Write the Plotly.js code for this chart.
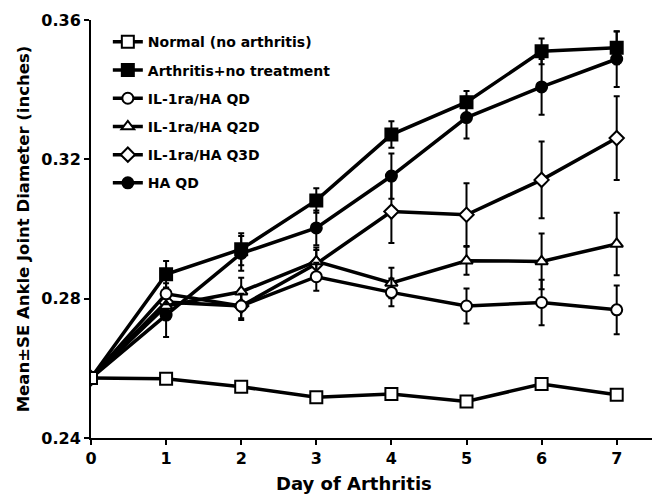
<!DOCTYPE html>
<html>
<head>
<meta charset="utf-8">
<script src="https://cdn.plot.ly/plotly-3.0.1.min.js"></script>
<style>html,body{margin:0;padding:0;background:#fff;}#chart{width:652px;height:496px;}</style>
</head>
<body>
<div id="chart"></div>
<script>
const days = [0, 1, 2, 3, 4, 5, 6, 7];
const normal = [0.2572, 0.2570, 0.2547, 0.2517, 0.2526, 0.2505, 0.2555, 0.2524];
const arthritis = [0.2572, 0.2870, 0.2942, 0.3082, 0.3271, 0.3364, 0.3510, 0.3520];
const ilQD = [0.2572, 0.2814, 0.2779, 0.2863, 0.2818, 0.2779, 0.2789, 0.2768];
const ilQ2D = [0.2572, 0.2779, 0.2820, 0.2907, 0.2845, 0.2909, 0.2907, 0.2957];
const ilQ3D = [0.2572, 0.2790, 0.2779, 0.2900, 0.3050, 0.3041, 0.3141, 0.3261];
const haQD = [0.2572, 0.2753, 0.2930, 0.3003, 0.3152, 0.3320, 0.3408, 0.3488];

const arthritisSE = [0, 0.0038, 0.0046, 0.0035, 0.0038, 0.0032, 0.0037, 0.0047];
const ilQDSE = [0, 0.0030, 0.0035, 0.0040, 0.0040, 0.0050, 0.0065, 0.0070];
const ilQ2DSE = [0, 0.0030, 0.0040, 0.0040, 0.0044, 0.0040, 0.0080, 0.0090];
const ilQ3DSE = [0, 0.0040, 0.0040, 0.0040, 0.0090, 0.0090, 0.0110, 0.0120];
const haQDSE = [0, 0.0063, 0.0050, 0.0050, 0.0065, 0.0060, 0.0080, 0.0080];

const names = ["Normal (no arthritis)", "Arthritis+no treatment", "IL-1ra/HA QD", "IL-1ra/HA Q2D", "IL-1ra/HA Q3D", "HA QD"];
const xTicks = [0, 1, 2, 3, 4, 5, 6, 7];
const yTicks = [0.24, 0.28, 0.32, 0.36];
const xTitle = 'Day of Arthritis';
const yTitle = 'Mean±SE Ankle Joint Diameter (inches)';

const FONT = 'DejaVu Sans, Verdana, sans-serif';

function series(name, y, se, symbol, fill, size, rank) {
  const t = {
    type: 'scatter', mode: 'lines+markers', name: name, x: days, y: y,
    legendgroup: name, legendrank: rank,
    line: {color: '#000', width: 3.5},
    marker: {symbol: symbol, size: size, color: fill, line: {color: '#000', width: 2}}
  };
  if (se) t.error_y = {type: 'data', array: se, visible: true, color: '#000', thickness: 2, width: 3};
  return t;
}

const data = [
  series(names[5], haQD, haQDSE, 'circle', '#000', 11, 6),
  series(names[4], ilQ3D, ilQ3DSE, 'diamond', '#fff', 11, 5),
  series(names[3], ilQ2D, ilQ2DSE, 'triangle-up', '#fff', 11, 4),
  series(names[2], ilQD, ilQDSE, 'circle', '#fff', 11, 3),
  series(names[1], arthritis, arthritisSE, 'square', '#000', 12, 2),
  series(names[0], normal, null, 'square', '#fff', 12, 1)
];

const layout = {
  width: 652, height: 496,
  margin: {l: 91, r: 0, t: 20, b: 58},
  paper_bgcolor: '#fff', plot_bgcolor: '#fff',
  font: {family: FONT, color: '#000'},
  showlegend: true,
  legend: {
    x: 0.03, y: 0.985, xanchor: 'left', yanchor: 'top',
    bgcolor: 'rgba(0,0,0,0)', tracegroupgap: 7,
    font: {size: 14, family: FONT, weight: 'bold'}
  },
  xaxis: {
    range: [0, 7.47], tickvals: xTicks, ticktext: xTicks.map(String),
    showgrid: false, zeroline: false, showline: true, linecolor: '#000', linewidth: 2,
    ticks: 'outside', ticklen: 5, tickwidth: 2, tickcolor: '#000',
    tickfont: {size: 16, weight: 'bold'}
  },
  yaxis: {
    range: [0.24, 0.36], tickvals: yTicks, ticktext: yTicks.map(v => v.toFixed(2)),
    showgrid: false, zeroline: false, showline: true, linecolor: '#000', linewidth: 2,
    ticks: 'outside', ticklen: 5, tickwidth: 2, tickcolor: '#000',
    tickfont: {size: 16, weight: 'bold'},
    title: {text: yTitle, font: {size: 16.5, weight: 'bold'}, standoff: 8}
  },
  annotations: [{
    text: xTitle, xref: 'x', yref: 'paper', x: 3.5, y: -0.11,
    xanchor: 'center', yanchor: 'middle', showarrow: false,
    font: {size: 18, family: FONT, weight: 'bold', color: '#000'}
  }]
};

Plotly.newPlot('chart', data, layout, {displayModeBar: false, staticPlot: true});
</script>
</body>
</html>
